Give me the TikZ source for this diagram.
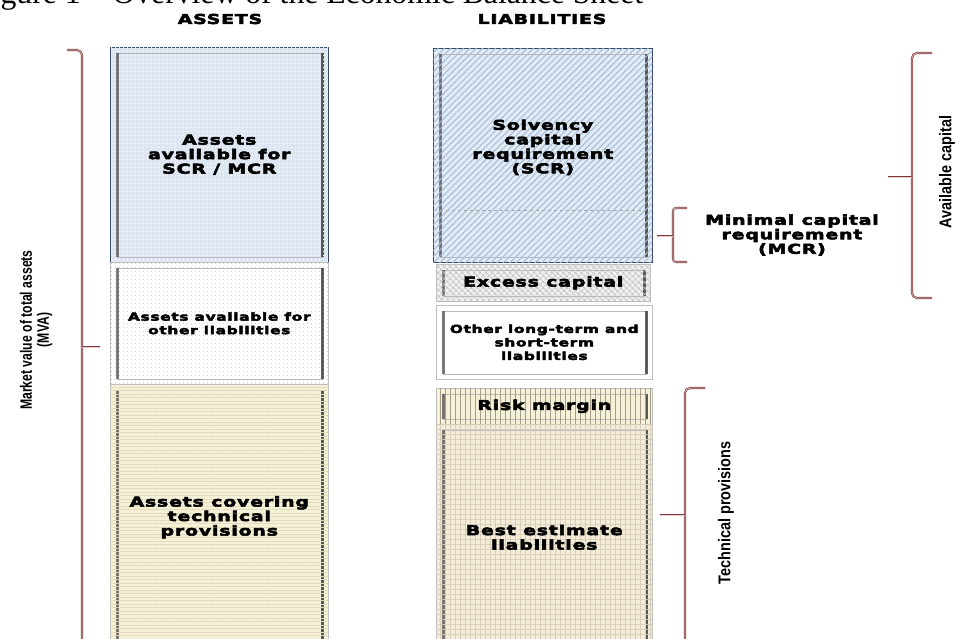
\documentclass[tikz,border=0pt]{standalone}
\usepackage{fontspec}
\setmainfont{Liberation Serif}
\newfontfamily\heavy[FakeStretch=1.4,LetterSpace=6,FakeBold=4]{DejaVu Sans Bold}
\newfontfamily\narrowA[FakeStretch=0.74]{Liberation Sans Bold}
\newfontfamily\narrowB[FakeStretch=0.85]{Liberation Sans Bold}
\usetikzlibrary{patterns,patterns.meta}
\definecolor{navy}{HTML}{34466A}
\definecolor{braceC}{HTML}{7A3B3B}
\definecolor{braceIn}{HTML}{E8C8C8}
\definecolor{aoneF}{HTML}{DDE6F1}
\definecolor{beigeF}{HTML}{F5F0D8}
\definecolor{beigeL}{HTML}{E3DBB8}
\definecolor{scrF}{HTML}{E2EBF5}
\definecolor{scrL}{HTML}{A3BBD5}
\definecolor{excF}{HTML}{F0F0F0}
\definecolor{riskL}{HTML}{A69E88}
\definecolor{bestF}{HTML}{F3ECD8}
\definecolor{bestL}{HTML}{D9CFB8}
\begin{document}
\begin{tikzpicture}[x=1pt,y=-1pt,
  txt/.style={font=\heavy\fontsize{13.5}{14.5}\selectfont, align=center, text=black},
  smalltxt/.style={font=\heavy\fontsize{11}{13.5}\selectfont},
  bevel/.style={path picture={
    \coordinate (bnw) at ([xshift=7pt,yshift=-6pt]path picture bounding box.north west);
    \coordinate (bse) at ([xshift=-6pt,yshift=5pt]path picture bounding box.south east);
    \draw[gray!55, line width=0.8pt] (bnw) rectangle (bse);
    \draw[gray!60!black, line width=2.4pt, opacity=0.7] (bnw) -- (bnw|-bse);
    \draw[gray!45!black, line width=2.6pt, opacity=0.8] (bse) -- (bse|-bnw);
  }},
  blk/.style={rectangle, anchor=north west, inner sep=0pt, draw=gray!50, line width=0.6pt, bevel, txt},
  bracestyle/.style={draw=braceC, double=braceIn, double distance=0.7pt, line width=0.7pt, rounded corners=5pt},
]
\useasboundingbox (0,0) rectangle (956,639);
\fill[white] (0,0) rectangle (956,639);

% title (cut at the top)
\node[anchor=base west, inner sep=0pt, font=\fontsize{31.7}{32}\selectfont] (title) at (-26,4) {Figure 1 -- Overview of the Economic Balance Sheet};

% headers
\node[txt] (hassets) at (220,19) {ASSETS};
\node[txt] (hliab) at (542,19) {LIABILITIES};

% assets column
\node[blk, draw=navy, minimum width=218pt, minimum height=215pt,
  fill=aoneF, postaction={pattern={Dots[distance=4pt,radius=0.7pt]}, pattern color=white}] (a1) at (110,47)
  {Assets\\available for\\SCR / MCR};
\node[blk, smalltxt, minimum width=218pt, minimum height=122pt,
  fill=white, postaction={pattern={Dots[distance=4pt,radius=0.45pt]}, pattern color=gray!70}] (a2) at (110,262)
  {Assets available for\\other liabilities};
\node[blk, minimum width=218pt, minimum height=266pt,
  fill=beigeF, postaction={pattern={Lines[angle=0,distance=3.5pt,line width=0.5pt]}, pattern color=beigeL}] (a3) at (110,384)
  {Assets covering\\technical\\provisions};

% liabilities column
\node[blk, draw=navy, minimum width=219pt, minimum height=214pt,
  fill=scrF, postaction={pattern={Lines[angle=45,distance=4.5pt,line width=1pt]}, pattern color=scrL},
  label={[name=scrtext, txt, yshift=8pt]center:Solvency\\capital\\requirement\\(SCR)}] (l1) at (433,48) {};
\draw[gray!70, dashed, line width=0.7pt] ([xshift=7pt]l1.west |- 0,210) coordinate (dl) -- ([xshift=-7pt]l1.east |- 0,210) coordinate (dr);
\node[blk, minimum width=214pt, minimum height=37pt,
  fill=excF, postaction={pattern={Hatch[angle=45,distance=4pt,line width=0.6pt]}, pattern color=gray!50}] (l2) at (436,264)
  {Excess capital};
\node[blk, smalltxt, minimum width=216pt, minimum height=74pt, fill=white] (l3) at (436,305)
  {Other long-term and\\short-term\\liabilities};
\node[blk, minimum width=216pt, minimum height=36pt,
  fill=beigeF, postaction={pattern={Lines[angle=90,distance=5pt,line width=0.6pt]}, pattern color=riskL}] (l4) at (436,388)
  {Risk margin};
\node[blk, minimum width=216pt, minimum height=226pt,
  fill=bestF, postaction={pattern={Hatch[angle=0,distance=5pt,line width=0.5pt]}, pattern color=bestL}] (l5) at (436,424)
  {Best estimate\\liabilities};

% MCR label
\node[txt] (mcr) at (792,235) {Minimal capital\\requirement\\(MCR)};

% braces
\draw[bracestyle] (67,50) -- (82,50) -- (82,660);
\draw[bracestyle, rounded corners=0pt] (82,347) -- (100,347);
\draw[bracestyle] (932,53) -- (912,53) -- (912,298) -- (932,298);
\draw[bracestyle, rounded corners=0pt] (912,177) -- (888,177);
\draw[bracestyle, rounded corners=3pt] (687,208) -- (673,208) -- (673,262) -- (687,262);
\draw[bracestyle, rounded corners=0pt] (673,236) -- (657,236);
\draw[bracestyle] (705,388) -- (685,388) -- (685,660);
\draw[bracestyle, rounded corners=0pt] (685,515) -- (660,515);

% rotated labels
\node[font=\narrowA\fontsize{16.5}{17}\selectfont, align=center, rotate=90] (mva) at (36,330) {Market value of total assets\\(MVA)};
\node[font=\narrowB\fontsize{17}{18}\selectfont, rotate=90] (avail) at (947,172) {Available capital};
\node[font=\narrowB\fontsize{17}{18}\selectfont, rotate=90] (tp) at (726,513) {Technical provisions};
\end{tikzpicture}
\end{document}
